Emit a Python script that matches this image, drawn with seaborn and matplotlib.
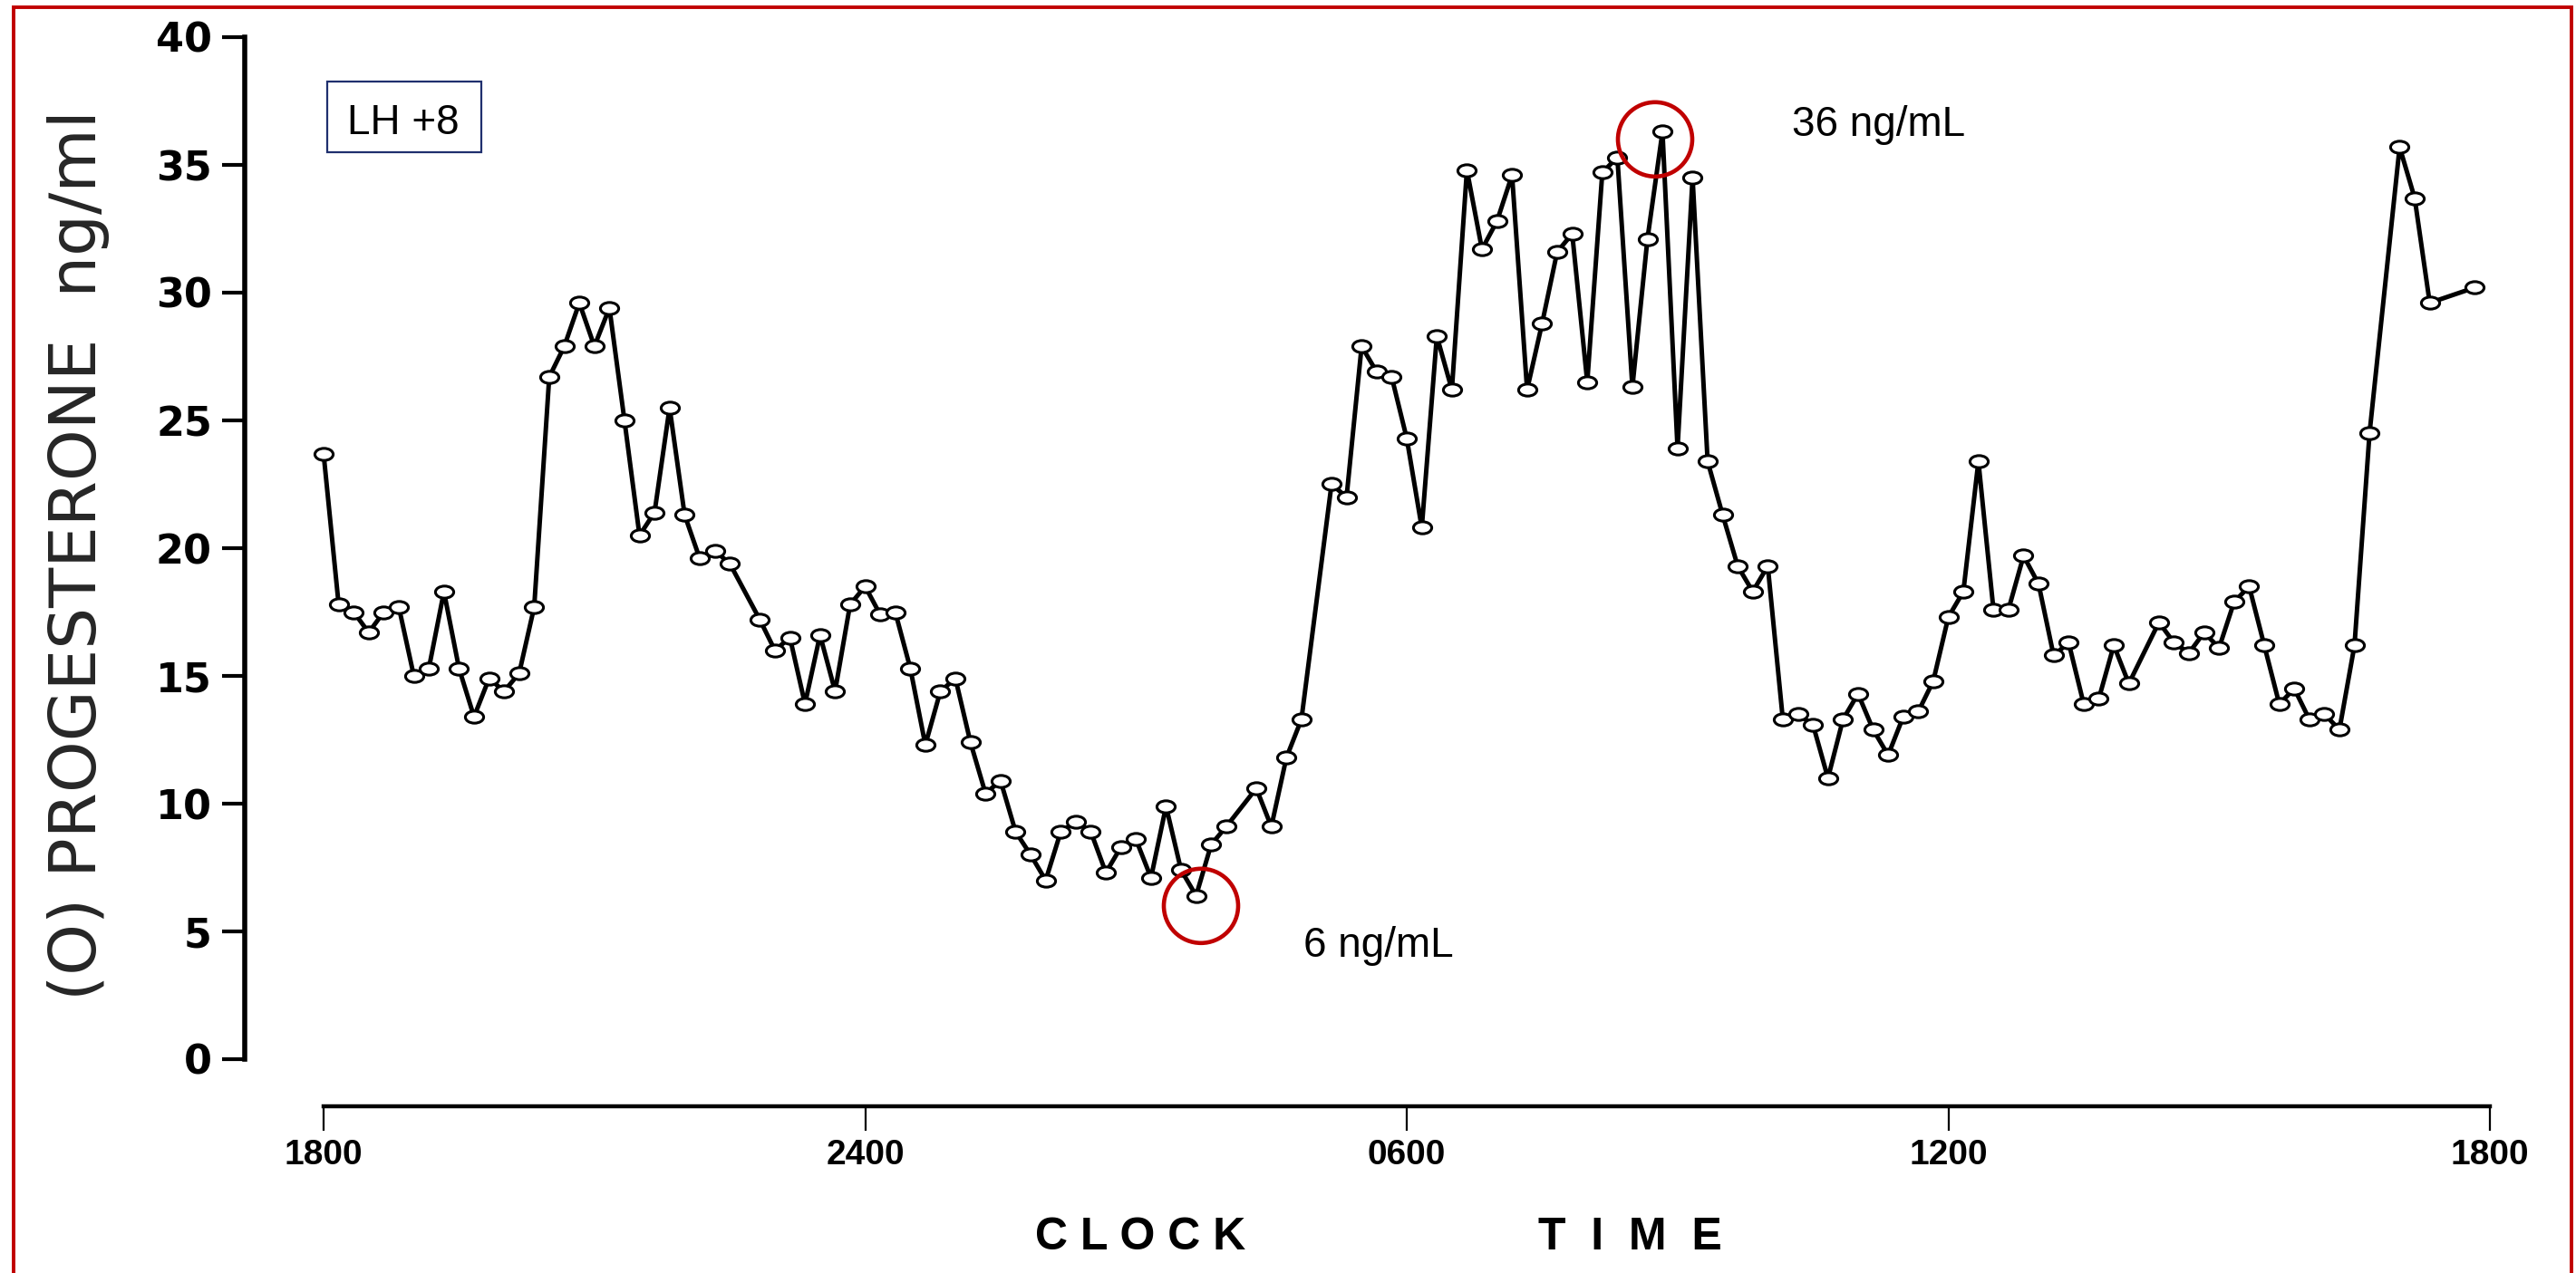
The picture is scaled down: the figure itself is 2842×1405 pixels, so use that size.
import matplotlib
matplotlib.use("Agg")
import matplotlib.pyplot as plt
import seaborn as sns
import pandas as pd
from matplotlib import font_manager as fm
from matplotlib.patches import Ellipse, Rectangle
from matplotlib.path import Path
from matplotlib.transforms import Affine2D

# ---------------- data ----------------
# clock time as minutes after 1800 (10-minute sampling, some samples missing)
clock_minutes = [
    0, 10, 20, 30, 40, 50, 60, 70, 80, 90,
    100, 110, 120, 130, 140, 150, 160, 170, 180, 190,
    200, 210, 220, 230, 240, 250, 260, 270,
    290, 300, 310, 320, 330, 340, 350, 360, 370, 380,
    390, 400, 410, 420, 430, 440, 450, 460, 470, 480,
    490, 500, 510, 520, 530, 540, 550, 560, 570, 580,
    590, 600,
    620, 630, 640, 650,
    670, 680, 690, 700, 710, 720, 730, 740, 750, 760,
    770, 780, 790, 800, 810, 820, 830, 840, 850, 860,
    870, 880, 890, 900, 910, 920, 930, 940, 950, 960,
    970, 980, 990, 1000, 1010, 1020, 1030, 1040, 1050, 1060,
    1070, 1080, 1090, 1100, 1110, 1120, 1130, 1140, 1150, 1160,
    1170, 1180, 1190, 1200,
    1220, 1230, 1240, 1250, 1260, 1270, 1280, 1290, 1300, 1310,
    1320, 1330, 1340, 1350, 1360,
    1380, 1390, 1400,
    1430,
]
progesterone = [
    23.7, 17.8, 17.5, 16.7, 17.5, 17.7, 15.0, 15.3, 18.3, 15.3,
    13.4, 14.9, 14.4, 15.1, 17.7, 26.7, 27.9, 29.6, 27.9, 29.4,
    25.0, 20.5, 21.4, 25.5, 21.3, 19.6, 19.9, 19.4,
    17.2, 16.0, 16.5, 13.9, 16.6, 14.4, 17.8, 18.5, 17.4, 17.5,
    15.3, 12.3, 14.4, 14.9, 12.4, 10.4, 10.9, 8.9, 8.0, 7.0,
    8.9, 9.3, 8.9, 7.3, 8.3, 8.6, 7.1, 9.9, 7.4, 6.4,
    8.4, 9.1,
    10.6, 9.1, 11.8, 13.3,
    22.5, 22.0, 27.9, 26.9, 26.7, 24.3, 20.8, 28.3, 26.2, 34.8,
    31.7, 32.8, 34.6, 26.2, 28.8, 31.6, 32.3, 26.5, 34.7, 35.3,
    26.3, 32.1, 36.3, 23.9, 34.5, 23.4, 21.3, 19.3, 18.3, 19.3,
    13.3, 13.5, 13.1, 11.0, 13.3, 14.3, 12.9, 11.9, 13.4, 13.6,
    14.8, 17.3, 18.3, 23.4, 17.6, 17.6, 19.7, 18.6, 15.8, 16.3,
    13.9, 14.1, 16.2, 14.7,
    17.1, 16.3, 15.9, 16.7, 16.1, 17.9, 18.5, 16.2, 13.9, 14.5,
    13.3, 13.5, 12.9, 16.2, 24.5,
    35.7, 33.7, 29.6,
    30.2,
]
x_tick_minutes = [0, 360, 720, 1080, 1440]
x_tick_labels = ["1800", "2400", "0600", "1200", "1800"]
y_ticks = [0, 5, 10, 15, 20, 25, 30, 35, 40]
y_label = "(O) PROGESTERONE  ng/ml"
x_label_words = ["C L O C K", "T  I  M  E"]
phase_label = "LH +8"
low_label = "6 ng/mL"
high_label = "36 ng/mL"

# ---------------- fonts ----------------
def has_font(name):
    try:
        fm.findfont(fm.FontProperties(family=name), fallback_to_default=False)
        return True
    except Exception:
        return False

sns.set_style("white")
plt.rcParams["font.family"] = ["Liberation Sans", "DejaVu Sans"]
NARROW = has_font("Liberation Sans Narrow")

W, H = 2842, 1405
fig = plt.figure(figsize=(W / 100, H / 100), dpi=100)

def fx(px):
    return px / W

def fy(py):
    return 1 - py / H

# axes: y spine at x=270 px, y=0 at 1169 px, y=40 at 41 px
ax = fig.add_axes([fx(270), fy(1169), (2800 - 270) / W, (1169 - 41) / H])
ax.set_facecolor("white")

df = pd.DataFrame({"minutes": clock_minutes, "progesterone": progesterone})
ellipse_marker = Path.unit_circle().transformed(Affine2D().scale(1.0, 0.66))
sns.lineplot(data=df, x="minutes", y="progesterone", ax=ax, color="black",
             linewidth=3.6, marker=ellipse_marker, markersize=14.5,
             markerfacecolor="white", markeredgecolor="black",
             markeredgewidth=2.2, estimator=None, sort=True, legend=False,
             clip_on=False)

px_per_min = (2747 - 357) / 1440.0
ax.set_xlim((270 - 357) / px_per_min, (2800 - 357) / px_per_min)
ax.set_ylim(0, 40)

for s in ["top", "right"]:
    ax.spines[s].set_visible(False)
ax.spines["left"].set_bounds(0, 40)
ax.spines["left"].set_linewidth(4.0)
ax.spines["left"].set_color("black")
ax.spines["bottom"].set_position(("outward", 52 * 0.72))
ax.spines["bottom"].set_bounds(0, 1440)
ax.spines["bottom"].set_linewidth(3.2)
ax.spines["bottom"].set_color("black")

ax.set_yticks(y_ticks)
ax.set_yticklabels([str(v) for v in y_ticks])
ax.set_xticks(x_tick_minutes)
ax.set_xticklabels(x_tick_labels)
ax.tick_params(axis="y", direction="out", length=18, width=3, pad=8,
               labelsize=32, color="black", labelcolor="black", left=True)
ax.tick_params(axis="x", direction="out", length=19.5, width=1.6, pad=6.5,
               labelsize=28, color="black", labelcolor="black", bottom=True)
for lab in ax.get_yticklabels():
    lab.set_fontfamily("DejaVu Sans")
    lab.set_fontweight("bold")
for lab in ax.get_xticklabels():
    lab.set_fontfamily(["Liberation Sans", "DejaVu Sans"])
    lab.set_fontweight("bold")
ax.grid(False)

# axis labels
if NARROW:
    ax.set_ylabel(y_label, fontsize=64, family=["Liberation Sans Narrow", "DejaVu Sans"])
else:
    ax.set_ylabel(y_label, fontsize=52, family=["DejaVu Sans"])
ax.yaxis.label.set_va("center")
ax.yaxis.set_label_coords((87 - 270) / 2530.0, (1169 - 613) / 1128.0)
ax.set_xlabel("")

for word, cx in zip(x_label_words, [1258, 1798]):
    fig.text(fx(cx), fy(1379), word, fontsize=36, fontweight="bold",
             ha="center", va="baseline",
             family=["Liberation Sans", "DejaVu Sans"], color="black")

# red annotation circles
circle_w = 82 / px_per_min
circle_h = 82 / 28.2
for cx, cy in [((1325 - 357) / px_per_min, 6.0), ((1826 - 357) / px_per_min, 36.0)]:
    ax.add_patch(Ellipse((cx, cy), circle_w, circle_h, fill=False,
                         edgecolor="#C00000", linewidth=3.3, clip_on=False,
                         zorder=5))

fig.text(fx(1438), fy(1056), low_label, fontsize=33, ha="left", va="baseline",
         family=["Liberation Sans", "DejaVu Sans"], color="black")
fig.text(fx(1977), fy(150), high_label, fontsize=33, ha="left", va="baseline",
         family=["Liberation Sans", "DejaVu Sans"], color="black")

# phase box
fig.add_artist(Rectangle((fx(361), fy(168)), 170 / W, 78 / H, fill=False,
                         edgecolor="#1F2F6E", linewidth=1.6,
                         transform=fig.transFigure))
fig.text(fx(445), fy(148), phase_label, fontsize=33, ha="center", va="baseline",
         family=["Liberation Sans", "DejaVu Sans"], color="black")

# red frame around the figure
fig.add_artist(Rectangle((fx(15), -0.02), (2837 - 15) / W, fy(8) + 0.02,
                         fill=False, edgecolor="#C00000", linewidth=2.8,
                         transform=fig.transFigure))

fig.savefig("out.png", dpi=100, facecolor="white")
